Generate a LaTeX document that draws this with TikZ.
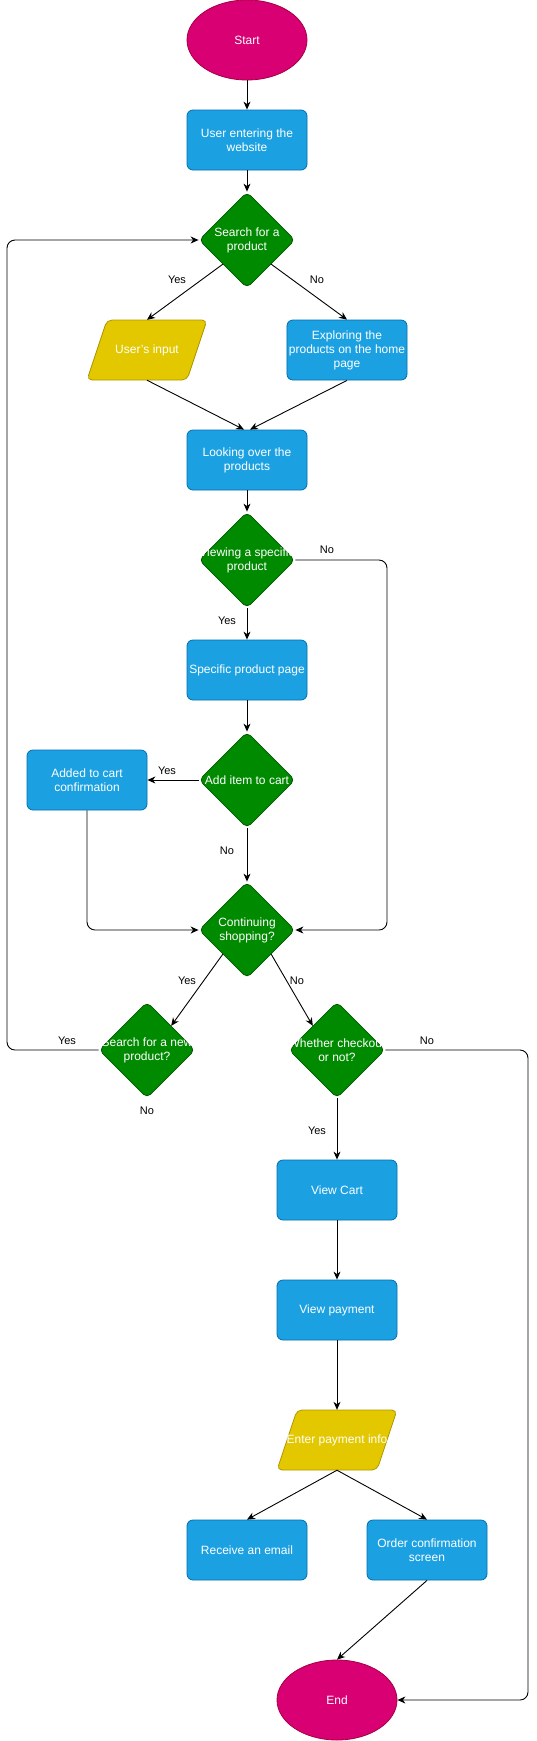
\documentclass[tikz,border=0pt]{standalone}
\usepackage{fontspec}
\setmainfont{Liberation Sans}
\usetikzlibrary{shapes.geometric,arrows.meta,backgrounds}
\definecolor{procfill}{HTML}{1BA1E2}
\definecolor{procline}{HTML}{006EAF}
\definecolor{askfill}{HTML}{008A00}
\definecolor{askline}{HTML}{005700}
\definecolor{endfill}{HTML}{D80073}
\definecolor{endline}{HTML}{A50040}
\definecolor{iofill}{HTML}{E3C800}
\definecolor{ioline}{HTML}{B09500}
\tikzset{
  nodefont/.style={font=\fontsize{12}{14}\selectfont},
  procbox/.style={nodefont, draw=procline, fill=procfill, text=white, align=center,
    rounded corners=6pt, minimum width=120pt, minimum height=60pt, inner sep=2pt, line width=0.8pt},
  terminal/.style={nodefont, shape=ellipse, draw=endline, fill=endfill, text=white,
    minimum width=120pt, minimum height=80pt, line width=0.8pt},
  iobox/.style={nodefont, text=white, align=center, minimum width=120pt, minimum height=60pt, inner sep=0pt},
  ioshape/.style={draw=ioline, fill=iofill, rounded corners=5pt, line width=0.8pt},
  decision/.style={shape=diamond, draw=askline, fill=askfill, minimum size=96pt,
    inner sep=0pt, rounded corners=5pt, line width=0.8pt},
  asktext/.style={nodefont, text=white, align=center},
  flow/.style={line width=0.9pt, -{Stealth[length=8pt,width=7pt,inset=2.5pt]}},
  loop/.style={flow, rounded corners=8pt},
  lbl/.style={font=\fontsize{11}{13}\selectfont, inner sep=1pt}
}
\begin{document}
\begin{tikzpicture}[x=1pt,y=-1pt]
\useasboundingbox (0,0) rectangle (536,1741);

\node[terminal] (start) at (247,40) {Start};
\node[procbox] (enter) at (247,140) {User entering the\\website};
\node[decision, label={[asktext]center:{Search for a\\product}}] (search) at (247,240) {};
\node[iobox] (input) at (147,350) {User's input};
\node[procbox] (explore) at (347,350) {Exploring the\\products on the home\\page};
\node[procbox] (look) at (247,460) {Looking over the\\products};
\node[decision, label={[asktext]center:{Viewing a specific\\product}}] (view) at (247,560) {};
\node[procbox] (page) at (247,670) {Specific product page};
\node[decision, label={[asktext]center:{Add item to cart}}] (add) at (247,780) {};
\node[procbox] (added) at (87,780) {Added to cart\\confirmation};
\node[decision, label={[asktext]center:{Continuing\\shopping?}}] (cont) at (247,930) {};
\node[decision, label={[asktext]center:{Search for a new\\product?}}] (again) at (147,1050) {};
\node[decision, label={[asktext]center:{Whether checkout\\or not?}}] (checkout) at (337,1050) {};
\node[procbox] (cart) at (337,1190) {View Cart};
\node[procbox] (pay) at (337,1310) {View payment};
\node[iobox] (payinfo) at (337,1440) {Enter payment info};
\node[procbox] (email) at (247,1550) {Receive an email};
\node[procbox] (confirm) at (427,1550) {Order confirmation\\screen};
\node[terminal] (end) at (337,1700) {End};

% slanted input boxes behind their text
\begin{scope}[on background layer]
\foreach \io in {input,payinfo}
  \draw[ioshape] (\io.center) ++(-40,-30) -- ++(100,0) -- ++(-20,60) -- ++(-100,0) -- cycle;
\end{scope}

\coordinate (loopbot) at (7,1050);
\coordinate (looptop) at (7,240);
\coordinate (noview) at (387,560);
\coordinate (noview2) at (387,930);
\coordinate (addedbot) at (87,930);
\coordinate (nocheck) at (528,1050);
\coordinate (nocheck2) at (528,1700);

\draw[flow] (start) -- (enter);
\draw[flow] (enter) -- (search);
\draw[flow] (search.south west) -- (input.north);
\draw[flow] (search.south east) -- (explore.north);
\draw[flow] (input.south) -- ([xshift=-3pt]look.north);
\draw[flow] (explore.south) -- ([xshift=3pt]look.north);
\draw[flow] (look) -- (view);
\draw[flow] (view) -- (page);
\draw[loop] (view.east) -- (noview) -- (noview2) -- (cont.east);
\draw[flow] (page) -- (add);
\draw[flow] (add) -- (added);
\draw[flow] (add) -- (cont);
\draw[loop] (added.south) -- (addedbot) -- (cont.west);
\draw[flow] (cont.south west) -- (again.north east);
\draw[flow] (cont.south east) -- (checkout.north west);
\draw[loop] (again.west) -- (loopbot) -- (looptop) -- (search.west);
\draw[flow] (checkout) -- (cart);
\draw[loop] (checkout.east) -- (nocheck) -- (nocheck2) -- (end.east);
\draw[flow] (cart) -- (pay);
\draw[flow] (pay) -- (payinfo);
\draw[flow] (payinfo.south) -- (email.north);
\draw[flow] (payinfo.south) -- (confirm.north);
\draw[flow] (confirm.south) -- (end.north);

\node[lbl] (yes1) at (177,280) {Yes};
\node[lbl] (no1) at (317,280) {No};
\node[lbl] (no2) at (327,550) {No};
\node[lbl] (yes2) at (227,621) {Yes};
\node[lbl] (yes3) at (167,771) {Yes};
\node[lbl] (no3) at (227,851) {No};
\node[lbl] (yes4) at (187,981) {Yes};
\node[lbl] (no4) at (297,981) {No};
\node[lbl] (yes5) at (67,1041) {Yes};
\node[lbl] (no5) at (147,1111) {No};
\node[lbl] (no6) at (427,1041) {No};
\node[lbl] (yes6) at (317,1131) {Yes};
\end{tikzpicture}
\end{document}
